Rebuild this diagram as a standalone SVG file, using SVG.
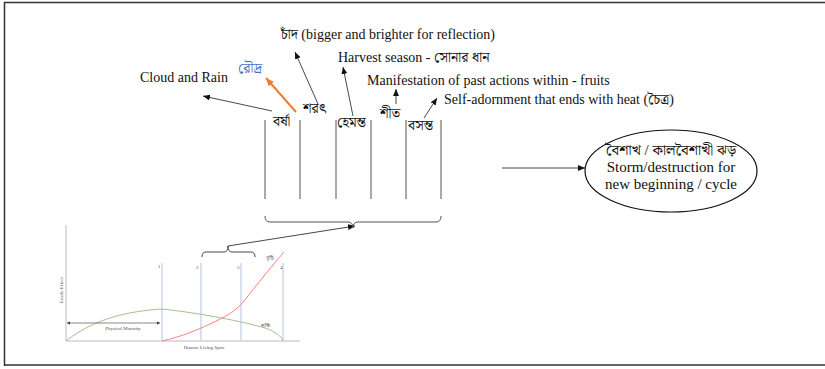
<svg xmlns="http://www.w3.org/2000/svg" width="825" height="369" viewBox="0 0 825 369">
<style>
.t{font-family:"Liberation Serif","Noto Serif Bengali","Noto Sans Bengali","Lohit Bengali",serif;font-size:14px;fill:#111}
.e{font-size:15px}
.bn{font-family:"Noto Serif Bengali","Noto Sans Bengali","Lohit Bengali","Liberation Serif",serif;font-size:14px;fill:#111}
.ln{stroke:#333;stroke-width:0.9;fill:none}
.col{stroke:#555;stroke-width:1;fill:none}
.ax{stroke:#aaa;stroke-width:0.8;fill:none}
.bl{stroke:#cdd6ee;stroke-width:1.5;fill:none}
.sm{font-family:"Liberation Serif",serif;font-size:5px;fill:#555}
.smb{font-family:"Noto Sans Bengali","Liberation Serif",serif;font-size:5px;fill:#555}
</style>
<defs>
<marker id="ah" markerUnits="userSpaceOnUse" markerWidth="8" markerHeight="8" refX="7" refY="4" orient="auto"><path d="M0,1 L7,4 L0,7 Z" fill="#111"/></marker>
<marker id="aho" markerUnits="userSpaceOnUse" markerWidth="9" markerHeight="9" refX="8" refY="4.5" orient="auto"><path d="M0,1 L8,4.5 L0,8 Z" fill="#ed7d31"/></marker>
<marker id="ahs" markerUnits="userSpaceOnUse" markerWidth="4" markerHeight="4" refX="3" refY="2" orient="auto-start-reverse"><path d="M0,0.5 L3,2 L0,3.5 Z" fill="#333"/></marker>
</defs>
<rect width="825" height="369" fill="#fff"/>
<path d="M4.5,366 L4.5,2.5 L825,2.5 M4,365 L825,365" stroke="#333" stroke-width="1.5" fill="none"/>

<g id="connectors">
<line class="ln" x1="272" y1="111" x2="203" y2="96" marker-end="url(#ah)"/>
<line x1="296" y1="112" x2="266" y2="78" stroke="#ed7d31" stroke-width="2" marker-end="url(#aho)"/>
<line class="ln" x1="318" y1="104" x2="295" y2="52" marker-end="url(#ah)"/>
<line class="ln" x1="353" y1="116" x2="343" y2="67" marker-end="url(#ah)"/>
<line class="ln" x1="396" y1="104" x2="396" y2="89" marker-end="url(#ah)"/>
<line class="ln" x1="424" y1="118" x2="437" y2="98" marker-end="url(#ah)"/>
<line class="ln" x1="228" y1="246" x2="355" y2="226" marker-end="url(#ah)"/>
<line class="ln" x1="502" y1="168" x2="585" y2="168" marker-end="url(#ah)"/>
</g>

<g id="labels">
<text class="t" x="281" y="39">চাঁদ (bigger and brighter for reflection)</text>
<text class="t" x="338" y="62">Harvest season - সোনার ধান</text>
<text class="t" x="140" y="82">Cloud and Rain</text>
<text class="bn" x="238" y="73" style="fill:#4472c4">রৌদ্র</text>
<text class="t" x="367" y="85">Manifestation of past actions within - fruits</text>
<text class="t" x="444" y="104">Self-adornment that ends with heat (চৈত্র)</text>
</g>

<g id="seasons">
<g id="col-lines">
<line class="col" x1="265" y1="120" x2="265" y2="199"/>
<line class="col" x1="300" y1="120" x2="300" y2="199"/>
<line class="col" x1="336" y1="120" x2="336" y2="199"/>
<line class="col" x1="371" y1="120" x2="371" y2="199"/>
<line class="col" x1="406" y1="120" x2="406" y2="199"/>
<line class="col" x1="441" y1="120" x2="441" y2="199"/>
</g>
<g id="barsha"><text class="bn" x="273" y="126">বর্ষা</text></g>
<g id="sharat"><text class="bn" x="303" y="113">শরৎ</text></g>
<g id="hemanta"><text class="bn" x="337" y="127">হেমন্ত</text></g>
<g id="sheet"><text class="bn" x="380" y="118">শীত</text></g>
<g id="basanta"><text class="bn" x="408" y="130">বসন্ত</text></g>
<g id="big-bracket"><path class="col" d="M265,216 Q265,222 270,222 L348,222 Q353,222 353,228 Q353,222 358,222 L436,222 Q441,222 441,216"/></g>
</g>

<g id="ellipse-node">
<ellipse cx="671" cy="171" rx="86" ry="41" fill="#fff" stroke="#111" stroke-width="1.2"/>
<text class="t e" x="671" y="155" text-anchor="middle">বৈশাখ / কালবৈশাখী ঝড়</text>
<text class="t e" x="671" y="172" text-anchor="middle">Storm/destruction for</text>
<text class="t e" x="671" y="189" text-anchor="middle">new beginning / cycle</text>
</g>

<g id="chart">
<path class="ax" d="M66,225 L66,341 L300,341"/>
<line class="bl" x1="162" y1="263" x2="162" y2="341"/>
<line class="bl" x1="201" y1="263" x2="201" y2="341"/>
<line class="bl" x1="241" y1="263" x2="241" y2="341"/>
<line class="bl" x1="283" y1="263" x2="283" y2="341"/>
<text class="sm" x="158" y="268">1</text>
<text class="sm" x="196" y="269">2</text>
<text class="sm" x="237" y="269">3</text>
<text class="sm" x="280" y="269">4</text>
<path d="M66,341 C95,318 130,311 162,309 C200,313 245,322 265,328 C276,332 281,336 283,341" stroke="#a3c18f" stroke-width="1" fill="none"/>
<path d="M162,341 C180,337 195,331 210,324 C225,317 235,312 244,301 C258,283 272,266 284,252" stroke="#ff7f7f" stroke-width="1" fill="none"/>
<line x1="67" y1="323" x2="160" y2="323" stroke="#555" stroke-width="0.7" marker-start="url(#ahs)" marker-end="url(#ahs)"/>
<text class="sm" x="123" y="330" text-anchor="middle">Physical Maturity</text>
<text class="sm" x="204" y="349" text-anchor="middle">Human Living Span</text>
<text class="sm" transform="translate(63,290) rotate(-90)" text-anchor="middle">Easily Effect</text>
<text class="smb" x="266" y="259">বুদ্ধি</text>
<text class="smb" x="261" y="327">শক্তি</text>
<g id="small-bracket"><path class="ln" d="M202,257 Q202,252 206,252 L224,252 Q228,252 228,246 Q228,252 232,252 L251,252 Q255,252 255,257"/></g>
</g>
</svg>
